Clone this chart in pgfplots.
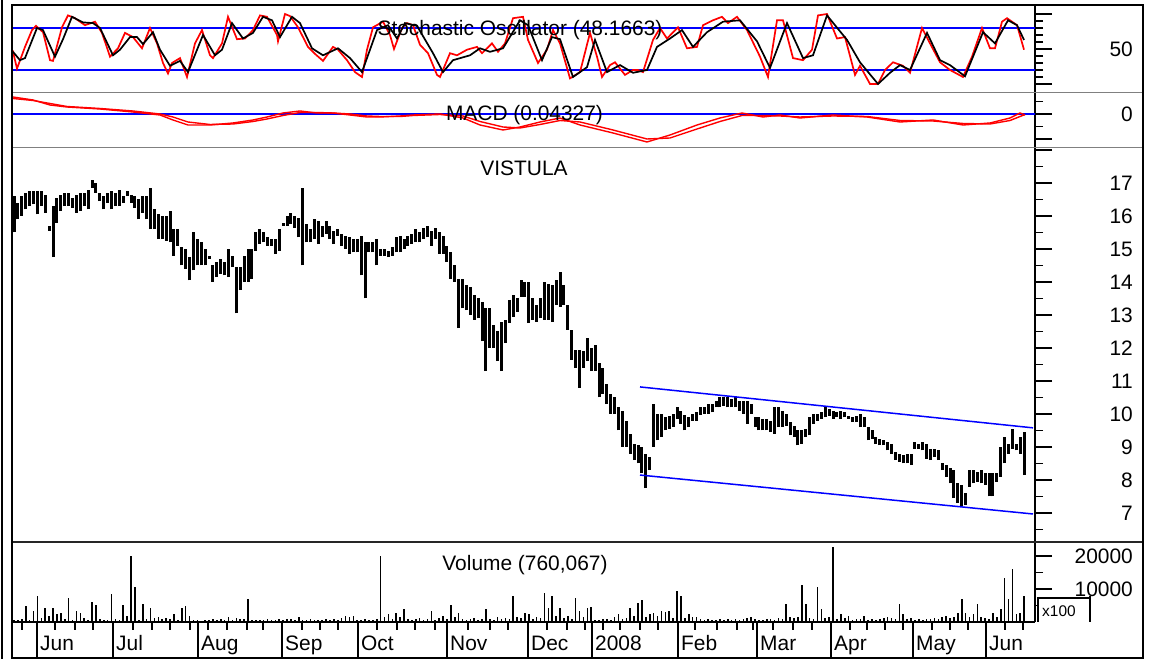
\documentclass[border=0pt]{standalone}
\usepackage{pgfplots}
\pgfplotsset{compat=1.18}
\usepackage{pgfplotstable}
\usepackage{fontspec}
\setmainfont{Liberation Sans}
\newcommand\bigf{\fontsize{21}{25}\selectfont}

\pgfplotstableread{
i h l
0 16.6 15.5
1 16.4 15.9
2 16.6 16.0
3 16.7 16.2
4 16.75 16.3
5 16.75 16.35
6 16.75 16.05
7 16.75 16.3
8 16.65 16.1
9 15.7 15.55
10 16.3 14.75
11 16.55 15.8
12 16.65 16.15
13 16.7 16.3
14 16.7 16.3
15 16.55 16.25
16 16.65 16.1
17 16.7 16.15
18 16.7 16.3
19 16.8 16.2
20 17.1 16.85
21 17.0 16.7
22 16.7 16.45
23 16.6 16.2
24 16.7 16.4
25 16.75 16.2
26 16.7 16.3
27 16.8 16.3
28 16.6 16.4
29 16.75 16.6
30 16.65 16.4
31 16.6 16.25
32 16.5 15.9
33 16.6 16.1
34 16.6 15.9
35 16.85 15.6
36 16.2 15.6
37 16.05 15.3
38 16.0 15.3
39 16.0 15.25
40 16.15 15.2
41 15.6 14.8
42 15.6 15.1
43 15.05 14.5
44 15.0 14.4
45 14.75 14.05
46 15.5 14.35
47 15.3 14.5
48 15.2 14.5
49 15.0 14.5
50 14.8 14.7
51 14.5 14.0
52 14.6 14.15
53 14.7 14.25
54 14.6 14.2
55 15.0 14.15
56 14.8 14.45
57 14.45 13.05
58 14.45 13.75
59 14.8 14.0
60 15.0 14.0
61 15.0 14.1
62 15.5 14.95
63 15.6 15.15
64 15.5 15.2
65 15.35 15.1
66 15.3 15.1
67 15.3 14.85
68 15.6 14.95
69 15.8 15.7
70 16.0 15.7
71 16.1 15.75
72 16.0 15.65
73 15.95 15.35
74 16.85 14.5
75 15.75 15.2
76 15.6 15.2
77 15.9 15.3
78 15.85 15.15
79 15.7 15.35
80 15.85 15.45
81 15.7 15.3
82 15.55 15.15
83 15.6 15.4
84 15.45 15.1
85 15.4 15.0
86 15.35 14.85
87 15.3 14.9
88 15.3 14.9
89 15.4 14.2
90 15.2 13.5
91 15.2 14.9
92 15.2 14.9
93 15.3 14.5
94 15.0 14.8
95 15.0 14.8
96 14.95 14.75
97 15.05 14.8
98 15.35 14.9
99 15.4 14.9
100 15.3 15.0
101 15.4 15.1
102 15.45 15.15
103 15.6 15.2
104 15.5 15.2
105 15.65 15.3
106 15.7 15.35
107 15.55 15.1
108 15.65 15.3
109 15.5 14.85
110 15.4 14.85
111 15.1 14.6
112 14.9 14.1
113 14.5 14.0
114 14.1 12.6
115 14.1 13.2
116 13.9 13.15
117 13.85 13.0
118 13.6 12.85
119 13.5 12.9
120 13.4 12.2
121 13.2 11.3
122 13.2 12.0
123 12.7 12.0
124 12.5 11.6
125 12.8 11.3
126 12.85 12.15
127 13.45 12.75
128 13.6 12.95
129 13.5 13.1
130 14.05 13.55
131 14.0 13.55
132 14.0 12.75
133 13.5 12.85
134 13.3 12.8
135 13.5 12.9
136 14.0 12.85
137 13.95 12.85
138 13.9 12.8
139 14.05 13.3
140 14.3 13.25
141 13.9 13.3
142 13.3 12.55
143 12.55 11.65
144 11.95 11.4
145 11.95 10.8
146 11.9 11.4
147 12.3 11.6
148 12.0 11.3
149 12.1 11.3
150 11.55 10.5
151 11.4 10.6
152 10.9 10.3
153 10.6 10.0
154 10.5 10.0
155 10.2 9.5
156 10.1 9.0
157 9.8 9.0
158 9.4 8.8
159 9.1 8.6
160 9.05 8.5
161 9.0 8.2
162 8.8 7.75
163 8.7 8.3
164 10.3 9.0
165 10.0 9.2
166 10.0 9.3
167 9.9 9.5
168 9.95 9.55
169 10.0 9.6
170 10.2 9.85
171 10.1 9.7
172 9.97 9.5
173 9.9 9.6
174 10.0 9.8
175 10.05 9.8
176 10.2 9.97
177 10.2 10.0
178 10.3 10.0
179 10.3 10.05
180 10.4 10.2
181 10.5 10.2
182 10.5 10.25
183 10.5 10.2
184 10.45 10.2
185 10.5 10.2
186 10.4 10.1
187 10.4 10.0
188 10.4 9.7
189 10.3 10.0
190 9.9 9.6
191 9.9 9.5
192 9.85 9.5
193 9.85 9.5
194 9.8 9.45
195 10.2 9.4
196 10.2 9.6
197 10.1 9.6
198 10.0 9.65
199 9.75 9.35
200 9.65 9.3
201 9.5 9.05
202 9.5 9.1
203 9.55 9.3
204 9.9 9.35
205 10.0 9.7
206 10.0 9.8
207 10.05 9.85
208 10.2 9.9
209 10.15 9.95
210 10.1 9.85
211 10.05 9.9
212 10.1 9.85
213 10.05 9.9
214 9.95 9.85
215 9.9 9.75
216 9.95 9.75
217 10.0 9.6
218 9.9 9.6
219 9.6 9.2
220 9.5 9.25
221 9.3 9.1
222 9.25 9.05
223 9.2 9.05
224 9.15 8.9
225 9.1 8.8
226 8.85 8.6
227 8.8 8.55
228 8.75 8.5
229 8.8 8.5
230 8.8 8.45
231 9.15 8.95
232 9.1 8.95
233 9.15 8.9
234 9.1 8.65
235 8.95 8.6
236 8.95 8.7
237 8.9 8.6
238 8.5 8.3
239 8.45 8.1
240 8.35 7.9
241 8.3 7.45
242 7.9 7.3
243 7.85 7.2
244 7.6 7.25
245 8.3 7.8
246 8.3 7.9
247 8.25 7.95
248 8.3 7.9
249 8.2 7.85
250 8.2 7.5
251 8.2 7.5
252 8.2 7.95
253 9.0 8.1
254 9.3 8.5
255 9.1 8.8
256 9.55 8.95
257 9.1 8.9
258 9.3 8.8
259 9.45 8.15
}\price

\pgfplotstableread{
i v
0 700
1 500
2 900
3 4800
4 600
5 3300
6 7900
7 1200
8 4200
9 1800
10 4200
11 2400
12 2700
13 800
14 7300
15 600
16 3300
17 2700
18 1200
19 500
20 6100
21 5100
22 900
23 600
24 700
25 8500
26 900
27 600
28 5100
29 1800
30 20000
31 10600
32 700
33 5500
34 800
35 4200
36 1200
37 1500
38 900
39 1200
40 800
41 2400
42 700
43 4200
44 4800
45 1800
46 500
47 600
48 400
49 700
50 500
51 800
52 600
53 900
54 700
55 1500
56 600
57 1200
58 800
59 900
60 7000
61 600
62 500
63 700
64 600
65 800
66 500
67 700
68 900
69 600
70 800
71 1000
72 600
73 1500
74 700
75 600
76 800
77 500
78 700
79 600
80 800
81 700
82 900
83 600
84 1200
85 1800
86 1500
87 1800
88 600
89 500
90 800
91 700
92 600
93 900
94 20000
95 1500
96 2400
97 900
98 2700
99 1500
100 3900
101 800
102 600
103 900
104 1200
105 700
106 900
107 3300
108 600
109 1200
110 1800
111 900
112 5100
113 1500
114 2700
115 800
116 700
117 900
118 1200
119 600
120 800
121 3900
122 900
123 700
124 1500
125 800
126 1200
127 900
128 7900
129 1500
130 1200
131 2700
132 2500
133 800
134 1500
135 1200
136 8800
137 4200
138 7900
139 1800
140 4200
141 1200
142 1800
143 900
144 7300
145 3300
146 1500
147 4200
148 4500
149 700
150 600
151 900
152 800
153 700
154 1500
155 2400
156 900
157 1200
158 4200
159 1800
160 5800
161 6700
162 1500
163 2500
164 2700
165 1800
166 3300
167 3000
168 3300
169 1200
170 9400
171 7900
172 1200
173 2500
174 1500
175 1500
176 900
177 600
178 800
179 700
180 600
181 900
182 700
183 800
184 600
185 900
186 700
187 800
188 1200
189 1500
190 800
191 700
192 600
193 900
194 800
195 700
196 1200
197 900
198 5500
199 1500
200 1200
201 1500
202 11200
203 5500
204 1200
205 900
206 10600
207 3900
208 1200
209 1500
210 22700
211 900
212 2400
213 1200
214 1800
215 700
216 900
217 800
218 1800
219 700
220 800
221 600
222 900
223 1200
224 1500
225 1200
226 900
227 5500
228 2400
229 900
230 1200
231 700
232 800
233 600
234 900
235 800
236 1200
237 900
238 1500
239 1800
240 1200
241 1500
242 2700
243 7000
244 2700
245 1500
246 2400
247 5500
248 1500
249 1200
250 900
251 2700
252 1500
253 3900
254 13300
255 7000
256 16000
257 2400
258 2700
259 7900
}\volume

\begin{document}
\begin{tikzpicture}
\useasboundingbox (0,0) rectangle (1152bp,659bp);
\pgfplotsset{panel/.style={scale only axis, width=1023bp, xmin=12, xmax=1035,
  anchor=south west, axis x line=none, axis y line=right,
  y axis line style={-, line width=1.2bp},
  tick align=outside, major tick length=17bp, minor tick length=8bp,
  tick style={line width=1.5bp, black}, yticklabels={}, scaled y ticks=false}}

% Stochastic
\begin{axis}[panel, at={(12bp,566bp)}, height=88bp, ymin=-12.86, ymax=112.86,
  ytick={0,50,100}, minor ytick={10,20,30,40,60,70,80,90}]
\addplot[blue, line width=1.5bp] coordinates {(12,80) (1035,80)};
\addplot[blue, line width=1.5bp] coordinates {(12,20) (1035,20)};
\addplot[red, line width=1.7bp] coordinates {
(12.7,48) (17,22) (25,53) (32,77) (36,83) (43,74) (50,34) (53,33) (62,81) (68,98)
(75,94) (85,84) (95,89) (102,73) (110,39) (118,51) (125,73) (133,67) (142,51) (150,80)
(157,58) (163,30) (168,15) (172,30) (180,37) (187,10) (195,58) (202,77) (210,41) (213,37)
(222,58) (228,96) (237,64) (245,65) (253,77) (260,98) (267,96) (277,70) (278,61) (285,100)
(290,97) (298,81) (308,53) (315,43) (323,33) (333,53) (338,49) (347,34) (355,17) (362,10)
(367,49) (373,81) (383,89) (390,70) (394,50) (402,80) (407,87) (413,84) (420,56) (428,44)
(437,13) (440,10) (450,44) (457,41) (467,49) (477,53) (482,44) (492,58) (498,46) (505,58)
(513,94) (523,96) (528,63) (538,30) (547,49) (553,77) (560,58) (570,8) (580,17) (590,73)
(597,39) (602,10) (610,27) (615,31) (625,13) (633,20) (638,20) (643,17) (653,63) (660,80)
(667,65) (678,81) (687,51) (697,53) (703,84) (713,91) (722,96) (728,87) (737,96) (747,77)
(760,39) (768,10) (777,91) (783,91) (793,37) (803,34) (812,49) (818,98) (827,100) (837,65)
(845,67) (855,13) (860,26) (870,0) (878,0) (885,20) (893,31) (903,26) (910,16) (922,80)
(930,58) (940,31) (950,20) (963,10) (972,39) (982,80) (990,51) (995,51) (1002,89) (1007,94)
(1017,84) (1024,49)};
\addplot[black, line width=1.7bp] coordinates {
(13,46) (20,34) (25,37) (37,80) (43,77) (55,39) (63,64) (72,96) (83,88) (93,87)
(100,80) (113,41) (120,49) (130,67) (137,67) (143,57) (153,74) (160,49) (170,26) (180,33)
(188,17) (203,70) (215,41) (222,49) (232,87) (243,65) (253,73) (263,96) (272,91) (280,67)
(292,96) (300,87) (312,51) (323,41) (338,51) (350,37) (362,17) (377,77) (388,84) (397,65)
(405,87) (417,83) (433,44) (443,17) (453,34) (470,41) (480,51) (490,46) (503,51) (520,91)
(528,84) (542,34) (552,67) (560,64) (573,10) (587,24) (595,63) (607,17) (620,27) (633,16)
(647,20) (657,53) (670,65) (682,77) (693,53) (707,74) (723,89) (740,91) (757,61) (770,23)
(787,87) (803,37) (813,41) (827,98) (847,63) (860,31) (878,0) (890,16) (900,27) (910,20)
(927,73) (940,34) (950,27) (965,11) (983,74) (995,58) (1008,91) (1017,84) (1024,63)};
\end{axis}

% MACD
\begin{axis}[panel, at={(12bp,511bp)}, height=55bp, ymin=-1.36, ymax=0.84,
  ytick={-1,0}, minor ytick={-0.5,0.5}]
\addplot[blue, line width=1.5bp] coordinates {(12,0) (1035,0)};
\addplot[red, line width=1.4bp] coordinates {
(13,0.68) (33,0.56) (50,0.36) (67,0.28) (100,0.2) (133,0.08) (160,-0.04) (173,-0.24)
(188,-0.44) (210,-0.44) (233,-0.36) (253,-0.24) (267,-0.12) (283,0.04) (300,0.12)
(317,0.04) (333,0.04) (350,-0.04) (367,-0.12) (380,-0.12) (400,-0.08) (413,-0.04)
(440,0) (463,-0.16) (480,-0.44) (503,-0.64) (520,-0.52) (540,-0.32) (560,-0.16)
(580,-0.44) (613,-0.76) (647,-1.12) (670,-0.84) (697,-0.44) (720,-0.16) (742,0.04)
(763,-0.12) (780,-0.04) (800,-0.16) (833,-0.04) (867,-0.12) (900,-0.32) (933,-0.24)
(963,-0.44) (990,-0.36) (1010,-0.16) (1020,0.04) (1025,-0.04)};
\addplot[red, line width=1.4bp] coordinates {
(13,0.62) (33,0.54) (50,0.42) (67,0.3) (100,0.22) (133,0.12) (160,0.0) (173,-0.12)
(188,-0.32) (210,-0.42) (233,-0.4) (253,-0.3) (267,-0.2) (283,-0.06) (300,0.06)
(317,0.06) (333,0.04) (350,0.0) (367,-0.08) (380,-0.1) (400,-0.1) (413,-0.06)
(440,-0.02) (463,-0.08) (480,-0.3) (503,-0.52) (520,-0.56) (540,-0.42) (560,-0.26)
(580,-0.32) (613,-0.64) (647,-1.0) (670,-0.96) (697,-0.6) (720,-0.3) (742,-0.06)
(763,-0.06) (780,-0.08) (800,-0.12) (833,-0.08) (867,-0.1) (900,-0.26) (933,-0.28)
(963,-0.38) (990,-0.4) (1010,-0.26) (1020,-0.1) (1025,-0.02)};
\end{axis}

% Price
\begin{axis}[panel, at={(12bp,117bp)}, height=394bp, ymin=6.121, ymax=18.06,
  ytick={7,8,...,18}, minor ytick={6.5,7.5,...,17.5}]
\addplot[draw=none, mark=none,
  error bars/.cd, y dir=plus, y explicit, error mark=none,
  error bar style={draw=black, line width=3bp}]
  table[x expr=14+3.9*\thisrow{i}, y=l, y error expr=\thisrow{h}-\thisrow{l}] {\price};
\addplot[blue, line width=1.5bp] coordinates {(640,10.82) (1033,9.58)};
\addplot[blue, line width=1.5bp] coordinates {(640,8.15) (1033,6.97)};
\end{axis}

% Volume
\begin{axis}[panel, at={(12bp,37bp)}, height=80bp, ymin=0, ymax=24242,
  ytick={10000,20000}, minor ytick={5000,15000}]
\addplot[black, ycomb, mark=none, line width=1.6bp]
  table[x expr=14+3.9*\thisrow{i}, y=v] {\volume};
\end{axis}

\begin{scope}[x=1bp,y=1bp]
% frames and separators
\draw[gray, line width=1bp] (12,566) -- (1143,566);
\draw[gray, line width=1bp] (12,511) -- (1143,511);
\draw[black!85, line width=1.2bp] (12,117) -- (1143,117);
\draw[black, line width=1.2bp] (12,37) -- (1035,37);
\draw[line width=2bp] (12,1.5) rectangle (1143,654);
\draw[line width=2bp] (2.5,0) -- (2.5,659);

% date strip
\foreach \m in {37,113,198,282,358,447,528,592,678,757,831,913,986}
  \draw[line width=1.5bp] (\m,1.5) -- (\m,37);
\foreach \w in {22,55,75,93,133,152,170,190,208,227,247,263,302,320,338,377,397,415,435,468,490,508,547,567,585,603,620,640,658,695,717,737,753,773,793,812,850,867,885,903,932,950,968,1005,1023}
  \draw[line width=1.5bp] (\w,37) -- (\w,29);
\foreach \m/\t in {37/Jun,113/Jul,198/Aug,282/Sep,358/Oct,447/Nov,528/Dec,592/2008,678/Feb,757/Mar,831/Apr,913/May,986/Jun}
  \node[anchor=base west, inner sep=0pt, font=\bigf] at (\m+3,9) {\t};

% x100 box
\fill[white] (1038,37) rectangle (1090,61);
\draw[line width=1.5bp] (1038,37) -- (1038,61) -- (1090,61);
\draw[line width=1.5bp] (1090,37) -- (1090,63);
\node[anchor=base west, inner sep=0pt, font=\fontsize{15.5}{18}\selectfont] at (1042,43) {x100};

% right tick labels
\node[anchor=east, inner sep=0pt, font=\bigf] at (1133,610) {50};
\node[anchor=east, inner sep=0pt, font=\bigf] at (1133,545) {0};
\foreach \v in {7,...,17}
  \node[anchor=east, inner sep=0pt, font=\bigf] at (1133,{33*\v-85}) {\v};
\node[anchor=east, inner sep=0pt, font=\bigf] at (1133,103) {20000};
\node[anchor=east, inner sep=0pt, font=\bigf] at (1133,70) {10000};

% titles
\node[anchor=base, inner sep=0pt, font=\bigf] at (520,623) {Stochastic Oscillator (48.1663)};
\node[anchor=base, inner sep=0pt, font=\bigf] at (524.5,538) {MACD (0.04327)};
\node[anchor=base, inner sep=0pt, font=\bigf] at (524,483) {VISTULA};
\node[anchor=base, inner sep=0pt, font=\bigf] at (525,89) {Volume (760,067)};
\end{scope}
\end{tikzpicture}
\end{document}
